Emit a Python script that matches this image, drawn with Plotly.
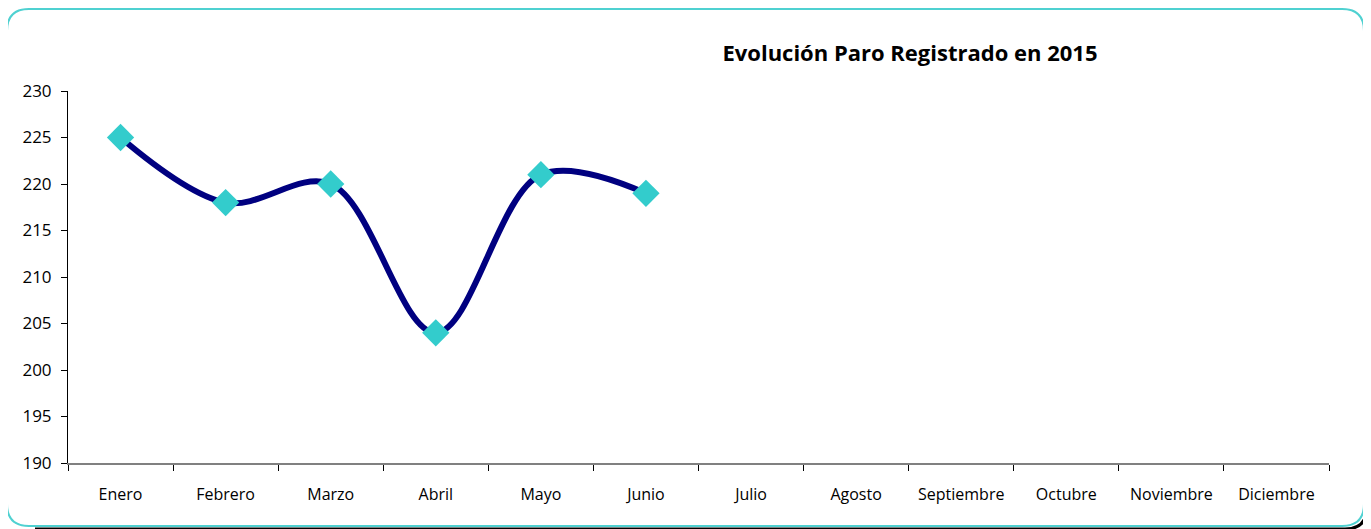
import plotly.graph_objects as go

meses = ["Enero", "Febrero", "Marzo", "Abril", "Mayo", "Junio", "Julio",
         "Agosto", "Septiembre", "Octubre", "Noviembre", "Diciembre"]
paro = [225, 218, 220, 204, 221, 219, None, None, None, None, None, None]
y_ticks = [190, 195, 200, 205, 210, 215, 220, 225, 230]

OFF = 8  # page body margin
W, H = 1371 - OFF, 529 - OFF
L, R, T, B = 68 - OFF, 1329 - OFF, 91 - OFF, 463 - OFF

def px(x):
    return (x - OFF - L) / (R - L)

def py(y):
    return (B - (y - OFF)) / (B - T)

def rounded_path(x0, y0, x1, y1, r):
    return (f"M {px(x0 + r)},{py(y0)} L {px(x1 - r)},{py(y0)} "
            f"Q {px(x1)},{py(y0)} {px(x1)},{py(y0 + r)} "
            f"L {px(x1)},{py(y1 - r)} Q {px(x1)},{py(y1)} {px(x1 - r)},{py(y1)} "
            f"L {px(x0 + r)},{py(y1)} Q {px(x0)},{py(y1)} {px(x0)},{py(y1 - r)} "
            f"L {px(x0)},{py(y0 + r)} Q {px(x0)},{py(y0)} {px(x0 + r)},{py(y0)} Z")

def shadow_path(x0, y0, x1, y1, r, d):
    return (f"M {px(x1 + d)},{py(y0 + r + 2)} L {px(x1 + d)},{py(y1 - r + d)} "
            f"Q {px(x1 + d)},{py(y1 + d)} {px(x1 - r + d)},{py(y1 + d)} "
            f"L {px(x0 + r + 6)},{py(y1 + d)}")

fig = go.Figure()
fig.add_trace(go.Scatter(
    x=meses, y=paro, mode="lines+markers",
    line=dict(color="#000080", width=6, shape="spline", smoothing=1.0),
    marker=dict(symbol="diamond", size=21, color="#33CCCC"),
    connectgaps=False, showlegend=False, hoverinfo="x+y"))

fig.update_layout(
    width=W, height=H,
    margin=dict(l=L, r=W - R, t=T, b=H - B),
    paper_bgcolor="white", plot_bgcolor="white",
    font=dict(family="Open Sans", color="black"),
    title=dict(text="<b>Evolución Paro Registrado en 2015</b>",
               xref="paper", x=px(910), xanchor="center",
               y=1 - (53 - OFF) / H, yanchor="middle",
               font=dict(size=22, family="Open Sans", color="black")),
    xaxis=dict(categoryorder="array", categoryarray=meses,
               range=[-0.5, 11.5], showgrid=False, zeroline=False,
               showline=True, linecolor="#808080", linewidth=2,
               ticks="outside", tickson="boundaries", ticklen=6,
               tickcolor="black", tickwidth=1, ticklabelstandoff=16,
               tickfont=dict(size=16, family="Open Sans"), fixedrange=True),
    yaxis=dict(range=[190, 230], tickvals=y_ticks, showgrid=False,
               zeroline=False, showline=True, linecolor="black", linewidth=1,
               ticks="outside", ticklen=6, tickcolor="black",
               ticklabelstandoff=6,
               tickfont=dict(size=17, family="Open Sans"), fixedrange=True),
    shapes=[
        dict(type="path", xref="paper", yref="paper",
             path=shadow_path(7, 9, 1364, 526, 22, 3),
             line=dict(color="black", width=3), layer="below"),
        dict(type="path", xref="paper", yref="paper",
             path=rounded_path(7, 9, 1364, 526, 22),
             line=dict(color="#4FD1D1", width=2), layer="below"),
    ],
)

fig.write_html("out.html")
